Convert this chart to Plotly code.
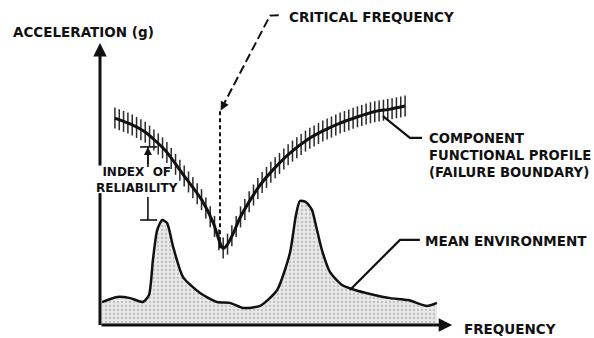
import numpy as np
import plotly.graph_objects as go

# Mean environment spectrum (frequency, acceleration) in arbitrary units
env_freq = [0.06, 0.48, 0.85, 1.21, 1.38, 1.49, 1.61, 1.75, 1.89, 2.06, 2.34, 2.82,
            3.30, 3.66, 4.03, 4.51, 4.99, 5.35, 5.52, 5.63, 5.80, 5.97, 6.08, 6.25,
            6.48, 6.82, 7.18, 7.61, 8.17, 8.68, 9.21, 9.49]
env_acc = [0.82, 1.00, 0.96, 0.82, 1.07, 2.32, 3.39, 3.75, 3.64, 2.79, 1.71, 1.14,
           0.82, 0.79, 0.61, 0.68, 1.25, 2.57, 3.93, 4.43, 4.39, 4.11, 3.57, 2.68,
           1.89, 1.43, 1.25, 1.11, 0.96, 0.89, 0.68, 0.79]

# Component functional profile (failure boundary)
prof_freq = [0.42, 0.85, 1.27, 1.83, 2.39, 2.87, 3.20, 3.36, 3.46, 3.58, 3.77, 3.94,
             4.23, 4.51, 4.87, 5.35, 5.83, 6.28, 6.76, 7.24, 7.69, 8.17, 8.59]
prof_acc = [7.39, 7.18, 6.89, 6.25, 5.29, 4.46, 3.62, 3.00, 2.74, 2.86, 3.32, 3.82,
            4.46, 5.00, 5.54, 6.14, 6.61, 6.93, 7.21, 7.43, 7.61, 7.71, 7.82]

critical_freq = 3.38

FONT = "DejaVu Sans"
INK = "#111111"

fig = go.Figure()

# Shaded environment
fig.add_trace(go.Scatter(
    x=env_freq, y=env_acc, mode="lines",
    line=dict(color=INK, width=2.5, shape="spline", smoothing=0.6),
    fill="tozeroy", fillcolor="#e2e2e2",
    fillpattern=dict(shape=".", bgcolor="#e8e8e8", fgcolor="#9a9a9a",
                     size=4, solidity=0.25),
    hoverinfo="skip", showlegend=False))

# Hatching along the failure boundary
hatch_f = np.arange(prof_freq[0], prof_freq[-1] + 0.01, 0.122)
hatch_a = np.interp(hatch_f, prof_freq, prof_acc)
fig.add_trace(go.Scatter(
    x=hatch_f, y=hatch_a, mode="markers",
    marker=dict(symbol="line-ns", size=15, line=dict(color="#2a2a2a", width=1.5)),
    hoverinfo="skip", showlegend=False))

# Failure boundary curve
fig.add_trace(go.Scatter(
    x=prof_freq, y=prof_acc, mode="lines",
    line=dict(color=INK, width=3, shape="spline", smoothing=0.6),
    hoverinfo="skip", showlegend=False))

# Critical frequency marker (dashed)
fig.add_trace(go.Scatter(
    x=[critical_freq, critical_freq], y=[min(prof_acc), 7.68], mode="lines",
    line=dict(color=INK, width=2, dash="4px,3px"),
    hoverinfo="skip", showlegend=False))
fig.add_trace(go.Scatter(
    x=[3.43, 4.79, 5.13], y=[7.75, 11.05, 11.07], mode="lines",
    line=dict(color=INK, width=2, dash="9px,4px"),
    hoverinfo="skip", showlegend=False))

# Leader lines
fig.add_trace(go.Scatter(
    x=[7.97, 8.73, 9.07], y=[7.46, 6.68, 6.68], mode="lines",
    line=dict(color=INK, width=2.2), hoverinfo="skip", showlegend=False))
fig.add_trace(go.Scatter(
    x=[7.04, 8.45, 9.01], y=[1.25, 3.04, 3.04], mode="lines",
    line=dict(color=INK, width=2.2), hoverinfo="skip", showlegend=False))

# Lower part of the vertical axis (gap left for the label)
fig.add_trace(go.Scatter(
    x=[0, 0], y=[0, 4.71], mode="lines",
    line=dict(color=INK, width=3), hoverinfo="skip", showlegend=False))

# Index of reliability bracket
env_peak = max(env_acc[:10])
idx_f = 1.35
fig.add_trace(go.Scatter(
    x=[idx_f, idx_f, None, 1.13, 1.61, None, idx_f, idx_f, None, 1.13, 1.61],
    y=[4.57, env_peak, None, env_peak, env_peak, None, 5.64, 6.36, None, 6.36, 6.36],
    mode="lines", line=dict(color=INK, width=1.6),
    hoverinfo="skip", showlegend=False))

annotations = []


def arrow(x0, y0, x1, y1, width=3, size=1.0):
    annotations.append(dict(
        x=x1, y=y1, ax=x0, ay=y0, xref="x", yref="y", axref="x", ayref="y",
        text="", showarrow=True, arrowhead=2, arrowsize=size,
        arrowwidth=width, arrowcolor=INK))


# Axes with arrowheads
arrow(0, 5.64, 0, 10.07, width=3, size=0.9)
arrow(0, 0, 9.92, 0, width=3, size=0.9)
# Arrow tip of the critical-frequency pointer
arrow(3.52, 7.95, critical_freq + 0.02, 7.66, width=1.6, size=1.1)
# Index arrow pointing up to the boundary
arrow(idx_f, 5.7, idx_f, 6.36, width=1.6, size=1.0)


def label(text, x, y, size=13.5, xanchor="left", align="left"):
    annotations.append(dict(
        x=x, y=y, xref="x", yref="y", text=text, showarrow=False,
        xanchor=xanchor, yanchor="middle", align=align,
        font=dict(family=FONT, size=size, color=INK, weight="bold")))


label("ACCELERATION (g)", -2.50, 10.46)
label("CRITICAL FREQUENCY", 5.27, 10.99)
label("COMPONENT<br>FUNCTIONAL PROFILE<br>(FAILURE BOUNDARY)", 9.20, 6.05, size=13.2)
label("MEAN ENVIRONMENT", 9.10, 3.0)
label("FREQUENCY", 10.20, -0.14)
label("INDEX  OF<br>RELIABILITY", 1.05, 5.17, size=12, xanchor="center", align="center")

fig.update_layout(
    width=594, height=338,
    margin=dict(l=0, r=0, t=0, b=0),
    paper_bgcolor="white", plot_bgcolor="white",
    xaxis=dict(range=[-100 / 35.5, 494 / 35.5], visible=False, fixedrange=True),
    yaxis=dict(range=[-13 / 28, 325 / 28], visible=False, fixedrange=True),
    annotations=annotations,
    showlegend=False,
)

fig.write_html("out.html")
